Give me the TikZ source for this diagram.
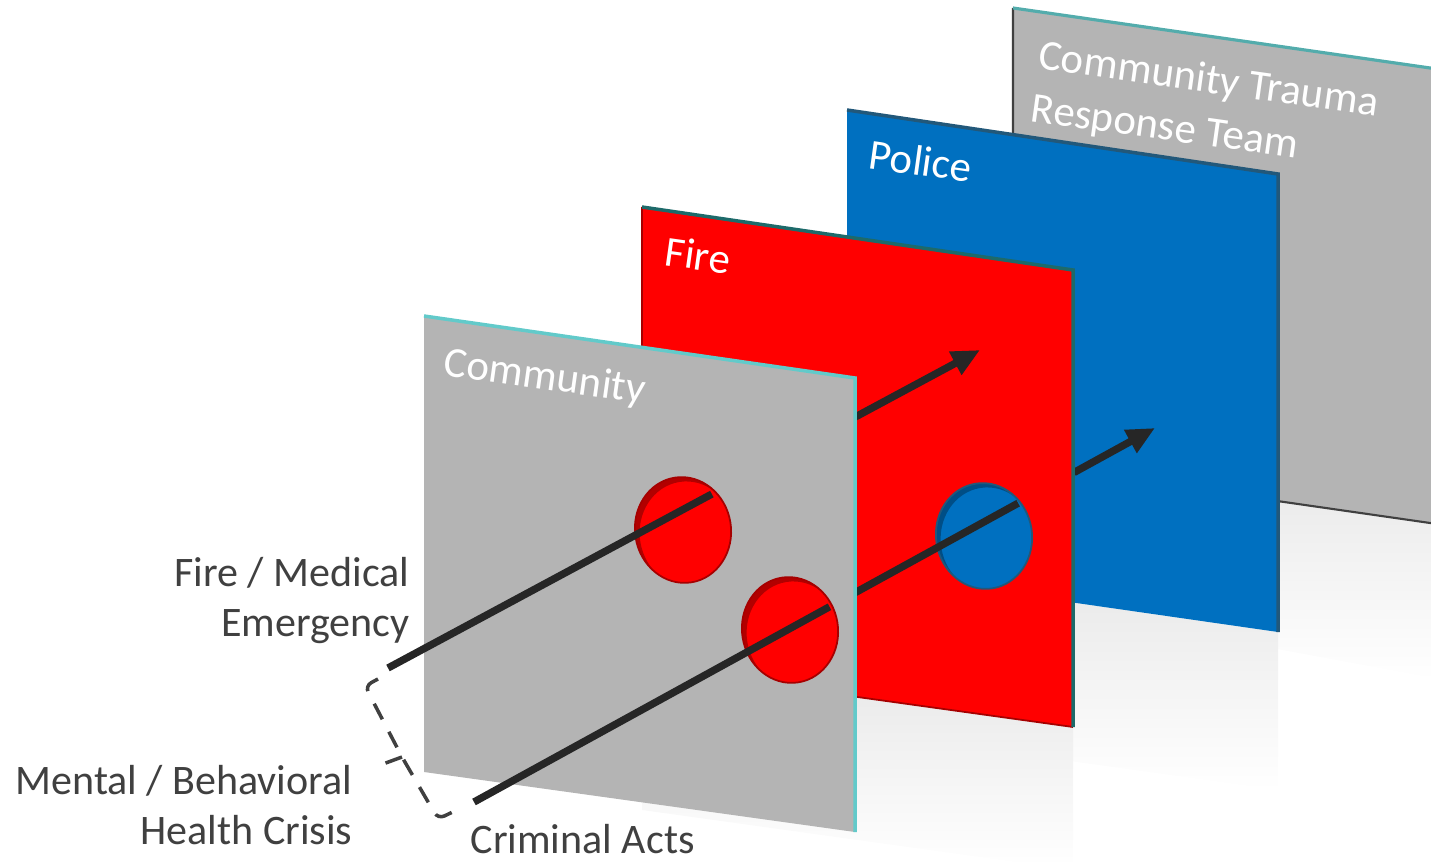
\documentclass[tikz,border=0pt]{standalone}
\usepackage{fontspec}
\setmainfont{Carlito}
\usetikzlibrary{arrows.meta}
\usetikzlibrary{calc}

\definecolor{panelgray}{HTML}{B4B4B4}
\definecolor{firered}{HTML}{FF0000}
\definecolor{policeblue}{HTML}{0070C0}
\definecolor{edgecyan}{HTML}{62CACA}
\definecolor{edgeteal}{HTML}{1D6A6A}
\definecolor{edgenavy}{HTML}{22587A}
\definecolor{labelgray}{HTML}{404040}
\definecolor{raygray}{HTML}{262626}

\tikzset{
  paneltext/.style={white, anchor=base west, rotate=-8, inner sep=0, align=left, font=\fontsize{12.2}{15.1}\selectfont},
  sidetext/.style={labelgray, align=right, inner sep=0, font=\fontsize{11.95}{14.2}\selectfont},
  ray/.style={raygray, line width=2.1pt},
  raytip/.style={ray, -{Triangle[length=8pt,width=7pt]}},
  bracket/.style={labelgray, line width=1pt, dash pattern=on 5pt off 4pt},
  floorshade/.style={top color=black!9, bottom color=white},
}

\newcommand{\panelhole}[3]{%
  \begin{scope}[rotate around={9:(#1)}]
    \fill[#2] (#1) ellipse [x radius=48, y radius=53];
    \begin{scope}
      \clip (#1) ellipse [x radius=48, y radius=53];
      \fill[black, opacity=0.3, even odd rule] ($(#1)+(4,5)$) ellipse [x radius=48, y radius=53] ($(#1)+(-80,-80)$) rectangle ($(#1)+(80,80)$);
    \end{scope}
    \draw[#3, line width=0.5pt] (#1) ellipse [x radius=48, y radius=53];
  \end{scope}}

\begin{document}
\begin{tikzpicture}[x=0.01cm, y=-0.01cm]
  \useasboundingbox (0,0) rectangle (1431,861);
  \clip (0,0) rectangle (1431,861);

  \coordinate (fm-start) at (388,668);
  \coordinate (fm-tip) at (980,350);
  \coordinate (fm-hole) at ($(fm-start)!0.547!(fm-tip)$);
  \coordinate (fm-exit) at ($(fm-start)!0.790!(fm-tip)$);
  \coordinate (cr-start) at (474,802);
  \coordinate (cr-tip) at (1155,428);
  \coordinate (cr-hole) at ($(cr-start)!0.522!(cr-tip)$);
  \coordinate (cr-exit) at ($(cr-start)!0.560!(cr-tip)$);
  \coordinate (cr-hole2) at ($(cr-start)!0.799!(cr-tip)$);
  \coordinate (cr-exit2) at ($(cr-start)!0.881!(cr-tip)$);

  % community trauma response team
  \shade[floorshade] (1013,463) -- (1444,525) -- (1444,680) -- (1013,600) -- cycle;
  \fill[panelgray] (1013,8) -- (1444,70) -- (1444,525) -- (1013,463) -- cycle;
  \draw[darkgray, line width=0.6pt] (1444,525) -- (1013,463) -- (1013,8);
  \draw[edgecyan!85!black, line width=0.9pt] (1013,8) -- (1444,70);
  \node[paneltext] (ctrt) at (1029,121) {Community Trauma\\Response Team};

  % police
  \shade[floorshade] (847,570) -- (1278,632) -- (1278,790) -- (847,730) -- cycle;
  \fill[policeblue] (847,110) -- (1278,174) -- (1278,632) -- (847,570) -- cycle;
  \draw[edgenavy, line width=1pt] (847,110) -- (1278,174) -- (1278,632);
  \node[paneltext] (police) at (867,168) {Police};
  \draw[raytip] (cr-exit2) -- (cr-tip);

  % fire
  \shade[floorshade] (642,667) -- (1073,727) -- (1073,870) -- (642,810) -- cycle;
  \fill[firered] (642,207) -- (1073,270) -- (1073,727) -- (642,667) -- cycle;
  \draw[firered!65!black, line width=0.5pt] (1073,727) -- (642,667) -- (642,207);
  \draw[edgeteal, line width=1pt] (642,207) -- (1073,270) -- (1073,727);
  \node[paneltext] (fire) at (663,265) {Fire};
  \panelhole{984,536}{policeblue}{edgenavy}
  \draw[ray] (cr-exit) -- (cr-hole2);
  \draw[raytip] (fm-exit) -- (fm-tip);

  % community
  \fill[panelgray] (424,316) -- (855,378) -- (855,832) -- (424,772) -- cycle;
  \draw[edgecyan, line width=1pt] (424,316) -- (855,378) -- (855,832);
  \node[paneltext] (community) at (442,375) {Community};
  \panelhole{683,530}{firered}{firered!65!black}
  \panelhole{790,630}{firered}{firered!65!black}
  \draw[ray] (fm-start) -- (fm-hole);
  \draw[ray] (cr-start) -- (cr-hole);

  % labels
  \node[sidetext, anchor=north east] (fm-label) at (410,557) {Fire / Medical\\Emergency};
  \node[sidetext, anchor=north east] (mb-label) at (353,765) {Mental / Behavioral\\Health Crisis};
  \node[sidetext, anchor=base west] (cr-label) at (470,853) {Criminal Acts};

  \coordinate (br-top) at (378,679);
  \coordinate (br-corner) at (365,686);
  \coordinate (br-mid) at (402,757);
  \coordinate (br-tick) at (383,764);
  \coordinate (br-low) at (438,819);
  \coordinate (br-end) at (459,809);
  \draw[bracket, rounded corners=2pt] (br-top) -- (br-corner) -- (br-mid) -- (br-low) -- (br-end);
  \draw[bracket] (br-mid) -- (br-tick);
\end{tikzpicture}
\end{document}
